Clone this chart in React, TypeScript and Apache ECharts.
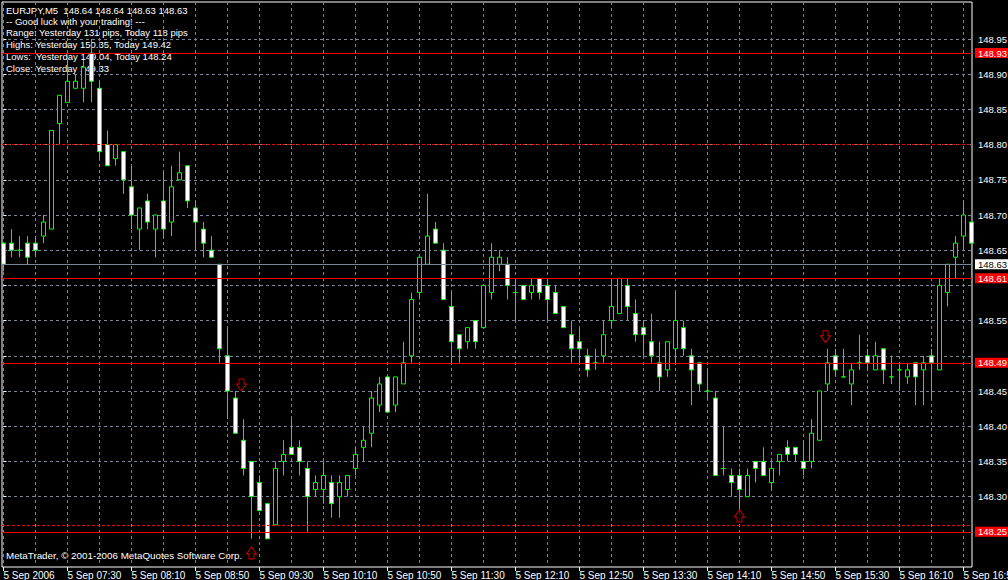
import React, { useEffect, useRef } from "react";
import * as echarts from "echarts";

// ---- data (5-minute EURJPY bars, index 0 = 06:50) ----
const opens = [
  148.66, 148.66, 148.65, 148.66, 148.66, 148.67, 148.68, 148.83, 148.86, 148.88,
  148.88, 148.93, 148.88, 148.80, 148.78, 148.79, 148.74, 148.68, 148.72, 148.68,
  148.72, 148.69, 148.75, 148.77, 148.71, 148.68, 148.65, 148.63, 148.50, 148.44,
  148.38, 148.35, 148.32, 148.29, 148.26, 148.35, 148.37, 148.37, 148.34, 148.31,
  148.31, 148.32, 148.30, 148.31, 148.34, 148.37, 148.39, 148.43, 148.47, 148.43,
  148.46, 148.50, 148.59, 148.63, 148.68, 148.65, 148.57, 148.53, 148.52, 148.55,
  148.54, 148.59, 148.63, 148.63, 148.59, 148.60, 148.59, 148.61, 148.60, 148.59,
  148.57, 148.53, 148.52, 148.50, 148.49, 148.50, 148.55, 148.56, 148.60, 148.56,
  148.54, 148.52, 148.49, 148.48, 148.51, 148.54, 148.50, 148.49, 148.45, 148.44,
  148.34, 148.33, 148.33, 148.30, 148.35, 148.35, 148.32, 148.35, 148.37, 148.37,
  148.35, 148.35, 148.38, 148.46, 148.50, 148.47, 148.46, 148.49, 148.50, 148.48,
  148.51, 148.47, 148.48, 148.47, 148.49, 148.48, 148.50, 148.48, 148.59, 148.64,
  148.67, 148.69,
];
const closes = [
  148.63, 148.65, 148.65, 148.64, 148.65, 148.69, 148.82, 148.87, 148.89, 148.89,
  148.91, 148.89, 148.79, 148.77, 148.80, 148.75, 148.70, 148.71, 148.69, 148.70,
  148.68, 148.74, 148.76, 148.72, 148.69, 148.66, 148.64, 148.51, 148.45, 148.39,
  148.34, 148.30, 148.28, 148.24, 148.34, 148.36, 148.36, 148.35, 148.30, 148.32,
  148.33, 148.29, 148.32, 148.33, 148.36, 148.38, 148.44, 148.46, 148.42, 148.47,
  148.49, 148.58, 148.64, 148.67, 148.66, 148.58, 148.52, 148.51, 148.54, 148.52,
  148.60, 148.64, 148.64, 148.60, 148.59, 148.58, 148.60, 148.59, 148.58, 148.56,
  148.54, 148.51, 148.51, 148.48, 148.49, 148.53, 148.57, 148.61, 148.57, 148.53,
  148.53, 148.50, 148.47, 148.52, 148.55, 148.51, 148.48, 148.46, 148.45, 148.33,
  148.34, 148.32, 148.31, 148.33, 148.34, 148.33, 148.34, 148.36, 148.36, 148.36,
  148.34, 148.39, 148.45, 148.49, 148.48, 148.47, 148.48, 148.49, 148.49, 148.50,
  148.48, 148.47, 148.48, 148.48, 148.47, 148.49, 148.49, 148.60, 148.63, 148.66,
  148.70, 148.66,
];
const lows = [
  148.62, 148.64, 148.64, 148.63, 148.64, 148.66, 148.68, 148.80, 148.86, 148.88,
  148.86, 148.86, 148.78, 148.77, 148.77, 148.73, 148.68, 148.65, 148.68, 148.64,
  148.67, 148.67, 148.75, 148.71, 148.65, 148.64, 148.64, 148.49, 148.41, 148.39,
  148.33, 148.24, 148.28, 148.24, 148.26, 148.33, 148.36, 148.33, 148.25, 148.30,
  148.29, 148.27, 148.27, 148.30, 148.33, 148.35, 148.37, 148.42, 148.42, 148.42,
  148.46, 148.49, 148.58, 148.63, 148.66, 148.58, 148.49, 148.49, 148.51, 148.51,
  148.54, 148.58, 148.62, 148.58, 148.55, 148.58, 148.58, 148.58, 148.55, 148.56,
  148.54, 148.49, 148.49, 148.47, 148.48, 148.49, 148.54, 148.56, 148.55, 148.52,
  148.50, 148.49, 148.45, 148.47, 148.49, 148.50, 148.43, 148.45, 148.44, 148.33,
  148.33, 148.30, 148.28, 148.30, 148.32, 148.33, 148.31, 148.33, 148.35, 148.35,
  148.33, 148.34, 148.38, 148.45, 148.47, 148.47, 148.43, 148.48, 148.48, 148.48,
  148.46, 148.46, 148.45, 148.46, 148.43, 148.43, 148.44, 148.48, 148.57, 148.61,
  148.65, 148.61,
];
const highs = [
  148.66, 148.68, 148.67, 148.67, 148.67, 148.70, 148.82, 148.87, 148.92, 148.90,
  148.92, 148.95, 148.89, 148.82, 148.80, 148.79, 148.77, 148.71, 148.73, 148.70,
  148.76, 148.77, 148.79, 148.77, 148.72, 148.69, 148.67, 148.63, 148.54, 148.45,
  148.41, 148.35, 148.33, 148.29, 148.35, 148.38, 148.41, 148.38, 148.35, 148.33,
  148.35, 148.33, 148.33, 148.33, 148.37, 148.40, 148.45, 148.47, 148.47, 148.47,
  148.52, 148.59, 148.64, 148.73, 148.69, 148.66, 148.59, 148.53, 148.54, 148.55,
  148.60, 148.66, 148.65, 148.64, 148.61, 148.60, 148.61, 148.61, 148.61, 148.60,
  148.57, 148.55, 148.54, 148.51, 148.51, 148.55, 148.61, 148.61, 148.61, 148.58,
  148.55, 148.56, 148.52, 148.52, 148.59, 148.55, 148.51, 148.49, 148.48, 148.45,
  148.40, 148.34, 148.34, 148.34, 148.35, 148.37, 148.35, 148.36, 148.38, 148.37,
  148.38, 148.41, 148.45, 148.51, 148.51, 148.51, 148.49, 148.53, 148.51, 148.52,
  148.51, 148.50, 148.49, 148.49, 148.49, 148.50, 148.51, 148.61, 148.63, 148.67,
  148.72, 148.69,
];

// vertical grid every 4 bars (20 min), time labels every 8 bars (40 min)
const gridBars = [0, 4, 8, 12, 16, 20, 24, 28, 32, 36, 40, 44, 48, 52, 56, 60, 64, 68, 72, 76, 80, 84, 88, 92, 96, 100, 104, 108, 112, 116, 120];
const timeTickBars = [0, 8, 16, 24, 32, 40, 48, 56, 64, 72, 80, 88, 96, 104, 112, 120];
const timeTickLabels = [
  "5 Sep 2006", "5 Sep 07:30", "5 Sep 08:10", "5 Sep 08:50", "5 Sep 09:30", "5 Sep 10:10",
  "5 Sep 10:50", "5 Sep 11:30", "5 Sep 12:10", "5 Sep 12:50", "5 Sep 13:30", "5 Sep 14:10",
  "5 Sep 14:50", "5 Sep 15:30", "5 Sep 16:10", "5 Sep 16:50",
];
const priceGridLevels = [148.25, 148.3, 148.35, 148.4, 148.45, 148.5, 148.55, 148.6, 148.65, 148.7, 148.75, 148.8, 148.85, 148.9, 148.95];
const priceTickLabels = [148.3, 148.35, 148.4, 148.45, 148.55, 148.65, 148.7, 148.75, 148.8, 148.85, 148.9, 148.95];

// horizontal levels drawn on the chart
const levelPrices = [148.9324, 148.797, 148.6308, 148.6063, 148.4912, 148.2639, 148.2526];
const levelTags = ["148.93", "", "148.63", "148.61", "148.49", "", "148.25"];
const levelKinds = ["red", "dash", "bid", "red", "red", "dash", "red"];

// arrow markers [bar, price]
const downArrows = [[29.75, 148.4585], [102.75, 148.5271]];
const upArrows = [[31, 148.22], [92, 148.2725]];

const infoLines = [
  "EURJPY,M5  148.64 148.64 148.63 148.63",
  "-- Good luck with your trading! ---",
  "Range: Yesterday 131 pips, Today 118 pips",
  "Highs: Yesterday 150.35, Today 149.42",
  "Lows:  Yesterday 149.04, Today 148.24",
  "Close: Yesterday 149.33",
];
const copyrightText = "MetaTrader, © 2001-2006 MetaQuotes Software Corp.";

// ---- layout / style ----
const FONT = '"Liberation Sans", Arial, sans-serif';
const GRID_LEFT = 2;
const GRID_RIGHT_X = 972;
const BAR_PX = 8;
const FIRST_BAR_X = 3.5;
const X_MIN = (GRID_LEFT - FIRST_BAR_X) / BAR_PX;
const X_MAX = X_MIN + (GRID_RIGHT_X - GRID_LEFT) / BAR_PX;
const Y_MIN = 148.2;
const PX_PER_UNIT = 704;
const GRID_TOP = 2;
const GRID_BOTTOM_Y = 567;
const Y_MAX = Y_MIN + (GRID_BOTTOM_Y - GRID_TOP) / PX_PER_UNIT;
const INFO_Y = [10.3, 21.4, 32.7, 44.3, 56.4, 68.8];

const GRID_COLOR = "#778899";
const RED = "#ff0000";

const DOWN_ARROW = "path://M2.5,0 L7.5,0 L7.5,5 L10,5 L5,12 L0,5 L2.5,5 Z";
const UP_ARROW = "path://M5,0 L10,7 L7.5,7 L7.5,12 L2.5,12 L2.5,7 L0,7 Z";

function buildOption() {
  const candles = opens.map((o, i) => [i, o, closes[i], lows[i], highs[i]]);

  const markData = levelPrices.map((p, i) => {
    const kind = levelKinds[i];
    const isBid = kind === "bid";
    const isDash = kind === "dash";
    return {
      yAxis: p,
      lineStyle: {
        color: isBid ? GRID_COLOR : RED,
        width: 1,
        type: isDash ? [3, 2] : "solid",
      },
      label: {
        show: levelTags[i] !== "",
        position: "end",
        formatter: levelTags[i],
        distance: 3,
        color: isBid ? "#000" : "#fff",
        backgroundColor: isBid ? "#fff" : RED,
        padding: [1, 6, 0, 3],
        fontSize: 9.5,
        lineHeight: 9,
        fontFamily: FONT,
      },
    };
  });

  const graphic: any[] = infoLines.map((t, i) => ({
    type: "text",
    x: 6,
    y: INFO_Y[i],
    z: 0,
    silent: true,
    style: {
      text: t,
      fill: "#fff",
      fontSize: 9.5,
      fontFamily: FONT,
      verticalAlign: "middle",
      align: "left",
    },
  }));
  graphic.push({
    type: "text",
    x: 6,
    y: 555,
    z: 0,
    silent: true,
    style: {
      text: copyrightText,
      fill: "#fff",
      fontSize: 9.8,
      fontFamily: FONT,
      verticalAlign: "middle",
      align: "left",
    },
  });

  return {
    animation: false,
    backgroundColor: "#000",
    grid: {
      left: GRID_LEFT,
      right: 1008 - GRID_RIGHT_X,
      top: GRID_TOP,
      bottom: 580 - GRID_BOTTOM_Y,
      containLabel: false,
      outerBoundsMode: "none",
      show: true,
      borderColor: "#fff",
      borderWidth: 1,
      backgroundColor: "transparent",
    },
    xAxis: [
      {
        type: "value",
        min: X_MIN,
        max: X_MAX,
        axisLine: { show: false },
        axisTick: { show: false, customValues: gridBars },
        axisLabel: { show: false },
        splitLine: { show: true, lineStyle: { color: GRID_COLOR, width: 1, type: [3, 3] } },
      },
      {
        type: "value",
        position: "bottom",
        min: X_MIN,
        max: X_MAX,
        axisLine: { show: false },
        axisTick: {
          show: true,
          customValues: timeTickBars,
          length: 4,
          lineStyle: { color: "#fff", width: 1 },
        },
        axisLabel: {
          customValues: timeTickBars,
          formatter: (v: number) => timeTickLabels[timeTickBars.indexOf(Math.round(v))] ?? "",
          align: "left",
          margin: 3,
          color: "#fff",
          fontSize: 10,
          fontFamily: FONT,
          hideOverlap: false,
        },
        splitLine: { show: false },
      },
    ],
    yAxis: {
      type: "value",
      position: "right",
      min: Y_MIN,
      max: Y_MAX,
      axisLine: { show: false },
      axisTick: {
        show: true,
        customValues: priceGridLevels,
        length: 3,
        lineStyle: { color: "#fff", width: 1 },
      },
      axisLabel: {
        customValues: priceTickLabels,
        formatter: (v: number) => v.toFixed(2),
        color: "#fff",
        fontSize: 9.5,
        fontFamily: FONT,
        margin: 6,
      },
      splitLine: { show: true, lineStyle: { color: GRID_COLOR, width: 1, type: [3, 3] } },
    },
    graphic,
    series: [
      {
        type: "candlestick",
        xAxisIndex: 0,
        data: candles,
        encode: { x: 0, y: [1, 2, 3, 4] },
        barWidth: 4,
        itemStyle: {
          color: "#000",
          color0: "#fff",
          borderColor: "#00ff00",
          borderColor0: "#00ff00",
          borderColorDoji: "#00ff00",
          borderWidth: 1,
        },
        markLine: {
          silent: true,
          symbol: ["none", "none"],
          animation: false,
          data: markData,
        },
        z: 3,
      },
      {
        type: "scatter",
        xAxisIndex: 0,
        data: downArrows,
        symbol: DOWN_ARROW,
        symbolSize: [10, 12],
        itemStyle: { color: "#000", borderColor: RED, borderWidth: 1 },
        silent: true,
        z: 5,
      },
      {
        type: "scatter",
        xAxisIndex: 0,
        data: upArrows,
        symbol: UP_ARROW,
        symbolSize: [10, 12],
        itemStyle: { color: "#000", borderColor: RED, borderWidth: 1 },
        silent: true,
        clip: false,
        z: 5,
      },
    ],
  };
}

export default function App() {
  const ref = useRef<HTMLDivElement>(null);
  useEffect(() => {
    if (!ref.current) return;
    const chart = echarts.init(ref.current, null, { renderer: "svg" });
    chart.setOption(buildOption() as any);
    return () => chart.dispose();
  }, []);
  return (
    <div
      ref={ref}
      style={{ position: "fixed", left: 0, top: 0, width: 1008, height: 580, background: "#000" }}
    />
  );
}
